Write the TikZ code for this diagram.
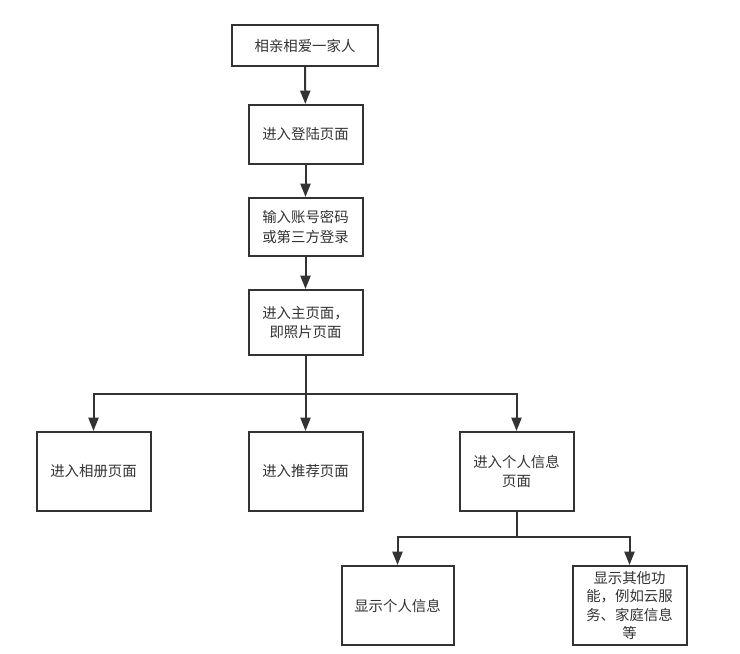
\documentclass[tikz,border=0pt]{standalone}
\usepackage{fontspec}
\newfontfamily\cjk{Noto Sans CJK SC}
\usetikzlibrary{arrows.meta}
\definecolor{ink}{HTML}{333333}
\begin{document}
\begin{tikzpicture}[x=0.75pt,y=-0.75pt,
  box/.style={draw=ink,line width=1.5pt,fill=white,minimum width=#1,inner sep=0pt,align=center,font=\cjk\fontsize{10.8pt}{14.5pt}\selectfont,text=ink},
  box/.default={85.5pt},
  conn/.style={draw=ink,line width=1.5pt},
  arr/.style={conn,-{Triangle[length=10pt,width=7.5pt]}}]
\useasboundingbox (0,0) rectangle (740,654);
\node[box=109.5pt,minimum height=30.75pt] (b1) at (305,45.5) {相亲相爱一家人};
\node[box,minimum height=44.25pt] (b2) at (305.5,134.5) {进入登陆页面};
\node[box,minimum height=43.5pt] (b3) at (305.5,227) {输入账号密码\\或第三方登录};
\node[box,minimum height=48.75pt] (b4) at (305.5,322.5) {进入主页面，\\即照片页面};
\node[box,minimum height=59.25pt] (b5) at (93.5,471.5) {进入相册页面};
\node[box,minimum height=59.25pt] (b6) at (305.5,471.5) {进入推荐页面};
\node[box,minimum height=59.25pt] (b7) at (516.5,471.5) {进入个人信息\\页面};
\node[box=84pt,minimum height=59.25pt] (b8) at (397.5,605.5) {显示个人信息};
\node[box,minimum height=59.25pt,font=\cjk\fontsize{10.8pt}{13.75pt}\selectfont] (b9) at (629.5,605.5) {显示其他功\\能，例如云服\\务、家庭信息\\等};
\coordinate (j1) at (305.5,393.5);
\coordinate (j2) at (516.5,537);
\draw[arr] (b1) -- (b2);
\draw[arr] (b2) -- (b3);
\draw[arr] (b3) -- (b4);
\draw[conn] (b4) -- (j1);
\draw[arr] (j1) -| (b5);
\draw[arr] (j1) -- (b6);
\draw[arr] (j1) -| (b7);
\draw[conn] (b7) -- (j2);
\draw[arr] (j2) -| (b8);
\draw[arr] (j2) -| (b9);
\end{tikzpicture}
\end{document}
